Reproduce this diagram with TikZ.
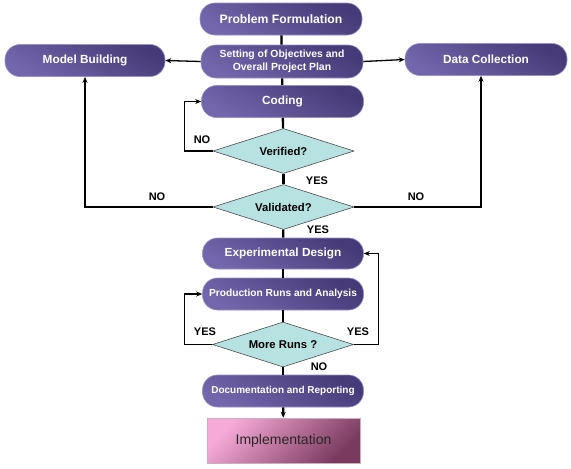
\documentclass[tikz,border=0pt]{standalone}
\usepackage{fontspec}
\setmainfont{Liberation Sans}
\usetikzlibrary{shapes.geometric,arrows.meta}
\definecolor{pdark}{HTML}{463A78}
\definecolor{plight}{HTML}{7466AC}
\definecolor{pedge}{HTML}{9A90C4}
\definecolor{dia}{HTML}{B7E2E2}
\definecolor{pinkl}{HTML}{F7AAD8}
\definecolor{pinkd}{HTML}{7A3A60}
\begin{document}
\begin{tikzpicture}[x=1pt,y=-1pt,
  pill/.style={rounded corners=15pt, minimum width=162pt, minimum height=32pt,
    draw=pedge, line width=0.6pt, top color=pdark, bottom color=plight, shading angle=-30,
    text=white, inner sep=0pt, align=center},
  dec/.style={diamond, aspect=3.1, draw=black!70, line width=0.6pt, fill=dia, minimum width=141pt,
    minimum height=45pt, inner sep=0pt, font=\fontsize{11.3}{12}\selectfont\bfseries},
  impl/.style={rectangle, minimum width=153pt, minimum height=45pt, draw=pinkd!40,
    line width=0.5pt, top color=pinkl, bottom color=pinkd, shading angle=45,
    text=black!85, font=\fontsize{14}{16}\selectfont},
  main/.style={line width=2.3pt, black},
  loop/.style={line width=1.3pt, black},
  tip/.style={-{Stealth[length=6pt,width=5pt]}},
  lab/.style={font=\fontsize{11}{12}\selectfont\bfseries, inner sep=0pt}
]
\useasboundingbox[fill=white] (0,0) rectangle (571,469);

\node[pill, font=\fontsize{12.2}{13}\selectfont\bfseries] (pf) at (281,19) {Problem Formulation};
\node[pill, minimum height=33pt, font=\fontsize{10.4}{12.5}\selectfont\bfseries] (set) at (282,61.5) {Setting of Objectives and\\Overall Project Plan};
\node[pill, minimum width=160pt, font=\fontsize{11.8}{13}\selectfont\bfseries] (mb) at (85,60.5) {Model Building};
\node[pill, font=\fontsize{11.8}{13}\selectfont\bfseries] (dc) at (486,59.5) {Data Collection};
\node[pill, minimum width=162pt, font=\fontsize{11.8}{13}\selectfont\bfseries] (cod) at (282.5,101.5) {Coding};

\node[dec] (ver) at (283.5,151) {Verified?};
\node[dec] (val) at (283.5,207) {Validated?};

\node[pill, minimum width=161pt, minimum height=31pt, font=\fontsize{11.8}{13}\selectfont\bfseries] (exp) at (283,253.5) {Experimental Design};
\node[pill, minimum width=161pt, font=\fontsize{10.2}{12}\selectfont\bfseries] (prod) at (283,294) {Production Runs and Analysis};
\node[dec] (more) at (283,344.5) {More Runs ?};
\node[pill, minimum width=161pt, font=\fontsize{10}{12}\selectfont\bfseries] (doc) at (283,391) {Documentation and Reporting};
\node[impl] (imp) at (283.5,440.5) {Implementation};

% main flow
\draw[main] (pf) -- (set);
\draw[main] (set) -- (cod);
\draw[main] (cod) -- (ver);
\draw[main] (ver) -- (val);
\draw[main] (val) -- (exp);
\draw[main] (exp) -- (prod);
\draw[main] (prod) -- (more);
\draw[main] (more) -- (doc);
\draw[main, tip] (doc) -- (imp);

% side arrows
\draw[loop, tip] (set.west) -- (mb.east);
\draw[loop, tip] (set.east) -- (dc.west);

% loops
\draw[loop, tip] (ver.west) -- ++(-28,0) |- (cod.west);
\draw[loop, tip] (val.west) -| (mb.south);
\draw[loop, tip] (val.east) -| ([xshift=-5pt]dc.south);
\draw[loop, tip] (more.west) -- ++(-28,0) |- (prod.west);
\draw[loop, tip] (more.east) -- ++(25,0) |- (exp.east);

% labels
\node[lab] (l1) at (202,140) {NO};
\node[lab] (l2) at (317,181) {YES};
\node[lab] (l3) at (157,197) {NO};
\node[lab] (l4) at (416,197) {NO};
\node[lab] (l5) at (318,230) {YES};
\node[lab] (l6) at (205,332) {YES};
\node[lab] (l7) at (358,332) {YES};
\node[lab] (l8) at (319,367) {NO};
\end{tikzpicture}
\end{document}
